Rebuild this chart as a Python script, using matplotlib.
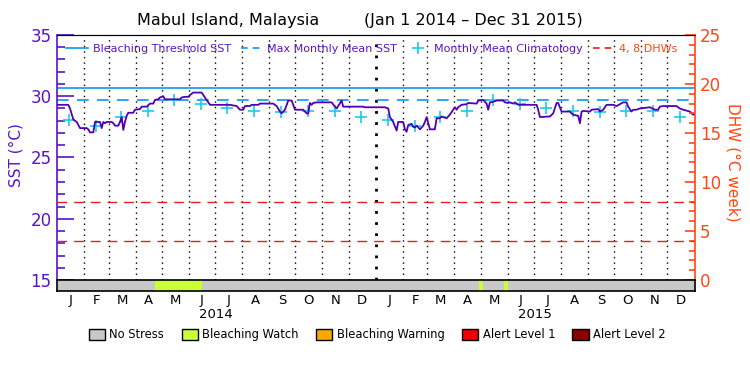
import numpy as np
import matplotlib
matplotlib.use("Agg")
import matplotlib.pyplot as plt
from matplotlib.patches import Patch
from matplotlib.lines import Line2D

# SST: days since Jan 1 2014, degC
sst_day = [0, 12.9, 14.9, 18.7, 22.6, 26.3, 34, 35.8, 37.8, 41.6, 43.5, 49.2, 51.2, 53, 55,
           56.9, 62.6, 64.5, 66.4, 70.2, 72.1, 74.1, 75.9, 77.8, 79.8, 81.6, 87.3, 89.3, 95,
           97, 102.7, 106.5, 110.2, 112.2, 116, 117.9, 121.7, 123.6, 129.4, 140.8, 142.8,
           146.5, 150.3, 152.3, 156, 165.7, 167.5, 171.4, 175.2, 198, 205.7, 209.5, 213.3,
           215.2, 221, 222.9, 230.4, 232.4, 247.6, 251.5, 255.3, 257.2, 261, 264.8, 268.7,
           272.5, 282, 285.8, 287.7, 289.6, 291.6, 293.4, 297.3, 314.5, 318.2, 320.2, 322,
           325.9, 327.7, 350.6, 352.6, 375.5, 379.3, 381.2, 385, 388.9, 390.7, 396.4, 398.4,
           400.3, 402.2, 406, 407.9, 409.8, 411.8, 415.6, 419.4, 421.3, 423.3, 425.1, 427,
           432.7, 434.7, 438.4, 440.4, 442.2, 446.1, 449.9, 453.7, 455.6, 457.6, 459.4, 461.4,
           463.3, 469, 470.9, 480.5, 482.4, 488, 491.9, 493.8, 495.7, 499.5, 503.4, 511,
           512.9, 516.7, 518.6, 522.4, 524.4, 528.2, 549.2, 551, 553, 564.4, 568.2, 572.1,
           573.9, 577.8, 587.3, 589.2, 591.1, 596.8, 598.8, 600.7, 602.6, 610.3, 612.2, 619.8,
           621.7, 625.5, 629.3, 636.9, 640.8, 644.5, 648.3, 652.2, 654, 657.9, 659.8, 663.6,
           667.4, 678.9, 684.6, 688.4, 690.3, 694.1, 709.4, 713.2, 717, 724.7, 728.4, 730]
sst_val = [29.3, 29.3, 29.0, 28.1, 27.9, 27.4, 27.4, 27.3, 27.05, 27.05, 27.9, 27.9, 27.4, 27.9, 27.8,
           27.9, 27.9, 27.8, 27.6, 27.6, 27.9, 28.3, 27.25, 27.9, 28.4, 28.65, 28.65, 28.9, 28.95,
           29.15, 29.15, 29.4, 29.4, 29.7, 29.75, 29.9, 30.0, 29.75, 29.75, 29.75, 29.9,
           29.95, 29.95, 30.1, 30.3, 30.3, 30.1, 29.7, 29.3, 29.3, 29.2, 28.9, 28.9,
           29.2, 29.2, 29.3, 29.3, 29.4, 29.4, 29.2, 28.75, 28.6, 28.9, 29.65, 29.65,
           28.9, 28.9, 28.6, 28.6, 29.45, 29.3, 29.45, 29.5, 29.5, 29.15, 29.0, 29.2,
           29.65, 29.15, 29.15, 29.1, 29.1, 29.0, 28.3, 27.9, 27.2, 27.9, 27.9, 27.3,
           27.1, 27.65, 27.75, 27.5, 27.45, 27.6, 27.3, 27.6, 27.9, 28.3, 27.8, 27.3,
           27.3, 28.2, 28.2, 28.35, 28.3, 28.2, 28.5, 28.9, 29.1, 28.9, 29.1, 29.2,
           29.3, 29.35, 29.45, 29.4, 29.65, 29.7, 29.4, 28.9, 29.5, 29.55, 29.65, 29.65,
           29.5, 29.45, 29.5, 29.4, 29.5, 29.3, 29.3, 28.9, 28.3, 28.35, 28.6, 29.45,
           29.45, 28.75, 28.75, 28.6, 28.5, 28.4, 27.8, 28.75, 28.8, 28.75, 28.9, 28.95,
           28.75, 28.9, 29.3, 29.3, 29.2, 29.35, 29.5, 29.5, 29.15, 28.75, 28.9, 28.9,
           29.0, 29.1, 28.9, 28.9, 29.15, 29.2, 29.2, 29.0, 28.9, 28.75, 28.5, 28.5]

# monthly mean climatology (same each year), Jan..Dec
clim_val = [28.05, 27.55, 28.3, 28.8, 29.7, 29.4, 29.05, 28.8, 28.7, 28.8, 28.8, 28.3]
mmm = 29.68
threshold = 30.68
dhw_levels = [4, 8]

# bleaching stress periods: start day, end day, level index
stress_start = [0, 112, 166, 483, 488, 512, 516]
stress_end = [112, 166, 483, 488, 512, 516, 730]
stress_level = [0, 1, 0, 1, 0, 1, 0]
stress_names = ['No Stress', 'Bleaching Watch', 'Bleaching Warning', 'Alert Level 1', 'Alert Level 2']
stress_colors = ['#c8c8c8', '#ccff33', '#fca800', '#ee0000', '#8c0000']

month_letters = list('JFMAMJJASOND')
years = ['2014', '2015']

purple = '#5a14c8'
line_purple = '#5000b4'
blue = '#0a96f0'
cyan = '#1ec8f0'
orange = '#ff4614'
red = '#e61e1e'

t0 = np.datetime64('2014-01-01')
months = np.arange('2014-01', '2016-02', dtype='datetime64[M]').astype('datetime64[D]')
mstart = (months - t0).astype(int)
mmid = (mstart[:-1] + mstart[1:]) / 2
clim_day = mstart[:-1] + 14
clim_all = clim_val * 2

fig = plt.figure(figsize=(7.5, 3.75), dpi=100)
ax = fig.add_axes([0.076, 0.2533, 0.85, 0.6534])
ax.set_xlim(0, 730)
ax.set_ylim(15, 35)

for d in mstart[1:-1]:
    ax.axvline(d, color='k', ls=(0, (1, 3)), lw=2 if d == 365 else 1, zorder=1)

ax.axhline(threshold, color=blue, lw=1.2, zorder=2)
ax.axhline(mmm, color=blue, lw=1.2, ls=(0, (7, 5)), zorder=2)
ax.plot(clim_day, clim_all, ls='none', marker='+', ms=9, mew=1.2, color=cyan, zorder=3)
ax.plot(sst_day, sst_val, color=line_purple, lw=1.3, zorder=4)

ax.set_yticks([15, 20, 25, 30, 35])
ax.set_yticks(np.arange(15, 36, 1), minor=True)
ax.tick_params(axis='y', which='major', direction='in', length=12, width=1.2,
               colors=purple, labelsize=12, pad=4)
ax.tick_params(axis='y', which='minor', direction='in', length=6, width=1.2, colors=purple)
ax.tick_params(axis='x', which='both', bottom=False, labelbottom=False)
ax.spines['left'].set_color(purple)
ax.spines['left'].set_linewidth(1.2)
ax.spines['right'].set_visible(False)

ax2 = ax.twinx()
ax2.set_ylim(0, 25)
for lv in dhw_levels:
    ax2.axhline(lv, color=red, lw=1, ls=(0, (7, 5)))
ax2.set_yticks([0, 5, 10, 15, 20, 25])
ax2.set_yticks(np.arange(0, 26, 1), minor=True)
ax2.tick_params(axis='y', which='major', direction='in', length=7, width=1.2,
                colors=orange, labelsize=12, pad=4)
ax2.tick_params(axis='y', which='minor', direction='in', length=4, width=1.2, colors=orange)
ax2.spines['right'].set_color(orange)
ax2.spines['right'].set_linewidth(1.2)
ax2.spines['left'].set_visible(False)

handles = [Line2D([], [], color=blue, lw=1.2),
           Line2D([], [], color=blue, lw=1.2, ls=(0, (4, 3))),
           Line2D([], [], color=cyan, ls='none', marker='+', ms=8, mew=1.2),
           Line2D([], [], color=red, lw=1.2, ls=(0, (4, 3)))]
labels = ['Bleaching Threshold SST', 'Max Monthly Mean SST', 'Monthly Mean Climatology', '4, 8 DHWs']
leg = ax2.legend(handles, labels, loc='upper left', bbox_to_anchor=(0.0, 1.0), ncol=4,
                 frameon=False, fontsize=8, handlelength=2.0, handletextpad=0.4,
                 columnspacing=0.9, borderaxespad=0.4)
for txt, c in zip(leg.get_texts(), [purple, purple, purple, orange]):
    txt.set_color(c)

# stress bar
bax = fig.add_axes([0.076, 0.224, 0.85, 0.0293])
for s, e, lv in zip(stress_start, stress_end, stress_level):
    bax.barh(0, e - s, left=s, height=1, color=stress_colors[lv], lw=0)
bax.set_xlim(0, 730)
bax.set_ylim(-0.5, 0.5)
bax.set_yticks([])
bax.set_xticks(mmid)
bax.set_xticklabels(month_letters * 2, fontsize=9.5)
bax.tick_params(axis='x', length=0, pad=2)
for sp in bax.spines.values():
    sp.set_linewidth(1.2)
for i, y in enumerate(years):
    bax.text(182.5 + 365 * i, -2.6, y, ha='center', va='center', fontsize=9.5, clip_on=False)

fig.legend(handles=[Patch(facecolor=c, edgecolor='k', lw=1, label=n)
                    for n, c in zip(stress_names, stress_colors)],
           loc='center', bbox_to_anchor=(0.503, 0.107), ncol=5, frameon=False,
           fontsize=8.3, handlelength=1.4, handleheight=1.2, handletextpad=0.4,
           columnspacing=1.5)

fig.text(137 / 750, 1 - 20 / 375, 'Mabul Island, Malaysia', ha='left', va='center', fontsize=11.5)
fig.text(364 / 750, 1 - 20 / 375, '(Jan 1 2014 \u2013 Dec 31 2015)', ha='left', va='center', fontsize=11.5)
fig.text(16 / 750, 1 - 155 / 375, 'SST (\u00b0C)', rotation=90, ha='center', va='center',
         color=purple, fontsize=11)
fig.text(733 / 750, 1 - 162 / 375, 'DHW (\u00b0C week)', rotation=270, ha='center', va='center',
         color=orange, fontsize=11)

fig.savefig('out.png', dpi=100)
